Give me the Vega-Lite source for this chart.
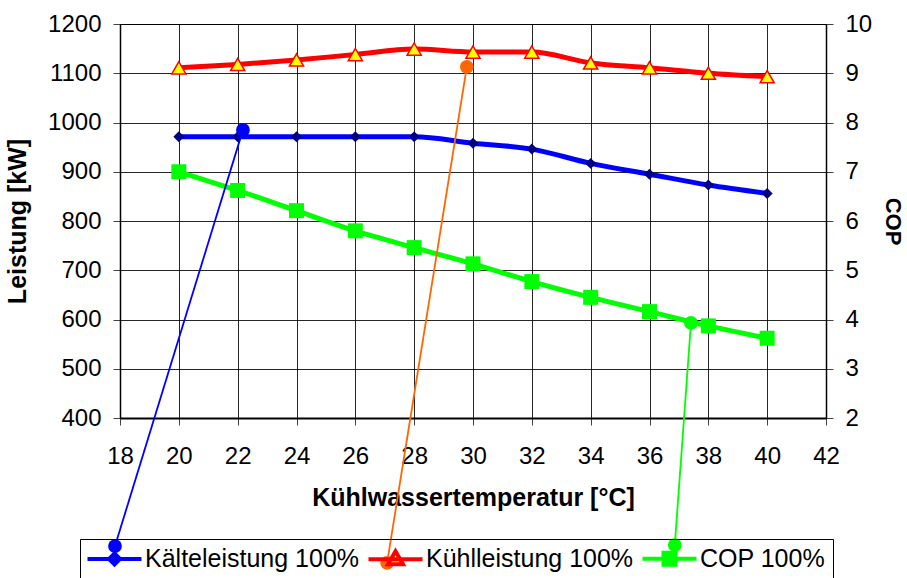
{
  "$schema": "https://vega.github.io/schema/vega-lite/v6.json",
  "width": 706,
  "height": 394,
  "autosize": {"type": "none"},
  "padding": {"left": 120, "top": 24, "right": 81, "bottom": 160},
  "background": "#ffffff",
  "config": {
    "font": "Liberation Sans",
    "view": {"stroke": "#000000", "strokeWidth": 1},
    "axis": {
      "labelFont": "Liberation Sans",
      "labelFontSize": 24,
      "labelColor": "#000000",
      "labelFlush": false,
      "labelOverlap": false,
      "titleFont": "Liberation Sans",
      "titleFontSize": 25,
      "titleFontWeight": "bold",
      "titleColor": "#000000",
      "tickSize": 7,
      "tickColor": "#444444",
      "domainColor": "#000000",
      "gridColor": "#000000",
      "gridOpacity": 0.85,
      "gridWidth": 1
    }
  },
  "datasets": {
    "d": [
      {"T": 20, "series": "Kälteleistung 100%", "value": 971},
      {"T": 22, "series": "Kälteleistung 100%", "value": 971},
      {"T": 24, "series": "Kälteleistung 100%", "value": 971},
      {"T": 26, "series": "Kälteleistung 100%", "value": 971},
      {"T": 28, "series": "Kälteleistung 100%", "value": 971},
      {"T": 30, "series": "Kälteleistung 100%", "value": 958},
      {"T": 32, "series": "Kälteleistung 100%", "value": 946},
      {"T": 34, "series": "Kälteleistung 100%", "value": 917},
      {"T": 36, "series": "Kälteleistung 100%", "value": 895},
      {"T": 38, "series": "Kälteleistung 100%", "value": 873},
      {"T": 40, "series": "Kälteleistung 100%", "value": 856},
      {"T": 20, "series": "Kühlleistung 100%", "value": 1111},
      {"T": 22, "series": "Kühlleistung 100%", "value": 1118},
      {"T": 24, "series": "Kühlleistung 100%", "value": 1127},
      {"T": 26, "series": "Kühlleistung 100%", "value": 1138},
      {"T": 28, "series": "Kühlleistung 100%", "value": 1149},
      {"T": 30, "series": "Kühlleistung 100%", "value": 1143},
      {"T": 32, "series": "Kühlleistung 100%", "value": 1143},
      {"T": 34, "series": "Kühlleistung 100%", "value": 1121},
      {"T": 36, "series": "Kühlleistung 100%", "value": 1111},
      {"T": 38, "series": "Kühlleistung 100%", "value": 1100},
      {"T": 40, "series": "Kühlleistung 100%", "value": 1093},
      {"T": 20, "series": "COP 100%", "value": 7.0},
      {"T": 22, "series": "COP 100%", "value": 6.62},
      {"T": 24, "series": "COP 100%", "value": 6.21},
      {"T": 26, "series": "COP 100%", "value": 5.8},
      {"T": 28, "series": "COP 100%", "value": 5.46},
      {"T": 30, "series": "COP 100%", "value": 5.13},
      {"T": 32, "series": "COP 100%", "value": 4.77},
      {"T": 34, "series": "COP 100%", "value": 4.45},
      {"T": 36, "series": "COP 100%", "value": 4.16},
      {"T": 38, "series": "COP 100%", "value": 3.87},
      {"T": 40, "series": "COP 100%", "value": 3.62}
    ],
    "c": [
      {"callout": "Kälteleistung 100%", "T": 22.18, "value": 985},
      {"callout": "Kälteleistung 100%", "T": 17.83, "value": 140},
      {"callout": "Kühlleistung 100%", "T": 29.79, "value": 1113},
      {"callout": "Kühlleistung 100%", "T": 27.08, "value": 106},
      {"callout": "COP 100%", "T": 37.41, "value": 593},
      {"callout": "COP 100%", "T": 36.86, "value": 142}
    ]
  },
  "encoding": {
    "x": {
      "field": "T",
      "type": "quantitative",
      "scale": {"domain": [18, 42], "nice": false, "zero": false},
      "axis": {
        "title": "Kühlwassertemperatur [°C]",
        "values": [18, 20, 22, 24, 26, 28, 30, 32, 34, 36, 38, 40, 42],
        "format": "d",
        "grid": true,
        "domainWidth": 2,
        "labelPadding": 19,
        "titlePadding": 17
      }
    }
  },
  "layer": [
    {
      "data": {"name": "d"},
      "transform": [{"filter": "datum.series !== 'COP 100%'"}],
      "encoding": {
        "y": {
          "field": "value",
          "type": "quantitative",
          "scale": {"domain": [400, 1200], "nice": false, "zero": false},
          "axis": {
            "orient": "left",
            "title": "Leistung [kW]",
            "values": [400, 500, 600, 700, 800, 900, 1000, 1100, 1200],
            "format": "d",
            "grid": true,
            "domainWidth": 1.5,
            "labelPadding": 12,
            "titlePadding": 17
          }
        }
      },
      "layer": [
        {
          "transform": [{"filter": "false"}],
          "mark": {"type": "point", "filled": true, "opacity": 1, "size": 400, "strokeWidth": 4},
          "encoding": {
            "stroke": {
              "field": "series",
              "type": "nominal",
              "scale": {
                "domain": ["Kälteleistung 100%", "Kühlleistung 100%", "COP 100%"],
                "range": ["#0000ff", "#ff0000", "#00ff00"]
              },
              "legend": {
                "title": null,
                "orient": "none",
                "legendX": -40,
                "legendY": 515,
                "direction": "horizontal",
                "strokeColor": "#000000",
                "padding": 7,
                "labelFont": "Liberation Sans",
                "labelFontSize": 25,
                "labelColor": "#000000",
                "labelLimit": 400,
                "symbolSize": 400,
                "symbolStrokeWidth": 4,
                "symbolOpacity": 1,
                "symbolOffset": 15,
                "labelOffset": 18,
                "columnPadding": 0
              }
            },
            "fill": {
              "field": "series",
              "type": "nominal",
              "scale": {
                "domain": ["Kälteleistung 100%", "Kühlleistung 100%", "COP 100%"],
                "range": ["#000080", "#ffff00", "#00ff00"]
              }
            },
            "shape": {
              "field": "series",
              "type": "nominal",
              "scale": {
                "domain": ["Kälteleistung 100%", "Kühlleistung 100%", "COP 100%"],
                "range": [
                  "M-2.7,0H2.7M0,-0.55L0.55,0L0,0.55L-0.55,0Z",
                  "M-2.7,0H2.7M0,-0.8L0.75,0.5L-0.75,0.5Z",
                  "M-2.7,0H2.7M-0.6,-0.6H0.6V0.6H-0.6Z"
                ]
              }
            }
          }
        },
        {
          "mark": {"type": "line", "strokeWidth": 5, "interpolate": "monotone"},
          "encoding": {"stroke": {"field": "series", "type": "nominal"}}
        },
        {
          "transform": [{"filter": "datum.series === 'Kälteleistung 100%'"}],
          "mark": {"type": "point", "shape": "diamond", "filled": true, "color": "#000080", "size": 120, "opacity": 1}
        },
        {
          "transform": [{"filter": "datum.series === 'Kühlleistung 100%'"}],
          "mark": {"type": "point", "shape": "triangle-up", "filled": true, "fill": "#ffff00", "stroke": "#ff0000", "strokeWidth": 1.5, "size": 200, "opacity": 1}
        }
      ]
    },
    {
      "data": {"name": "d"},
      "transform": [{"filter": "datum.series === 'COP 100%'"}],
      "encoding": {
        "y": {
          "field": "value",
          "type": "quantitative",
          "scale": {"domain": [2, 10], "nice": false, "zero": false},
          "axis": {
            "orient": "right",
            "title": "COP",
            "titleFontSize": 22,
            "values": [2, 3, 4, 5, 6, 7, 8, 9, 10],
            "format": "d",
            "grid": false,
            "domainWidth": 1.5,
            "labelPadding": 12,
            "titlePadding": 9
          }
        }
      },
      "layer": [
        {
          "mark": {"type": "line", "strokeWidth": 5, "interpolate": "monotone"},
          "encoding": {"stroke": {"field": "series", "type": "nominal"}}
        },
        {
          "mark": {"type": "point", "shape": "square", "filled": true, "color": "#00ff00", "size": 225, "opacity": 1}
        }
      ]
    },
    {
      "data": {"name": "c"},
      "encoding": {
        "y": {
          "field": "value",
          "type": "quantitative",
          "scale": {"domain": [400, 1200], "nice": false, "zero": false},
          "axis": null
        },
        "color": {
          "field": "callout",
          "type": "nominal",
          "scale": {
            "domain": ["Kälteleistung 100%", "Kühlleistung 100%", "COP 100%"],
            "range": ["#0000ff", "#ff6600", "#00ff00"]
          },
          "legend": null
        }
      },
      "layer": [
        {"mark": {"type": "line", "strokeWidth": 1.8}, "encoding": {}},
        {"mark": {"type": "circle", "size": 190, "opacity": 1}}
      ]
    }
  ],
  "resolve": {"scale": {"y": "independent"}}
}
